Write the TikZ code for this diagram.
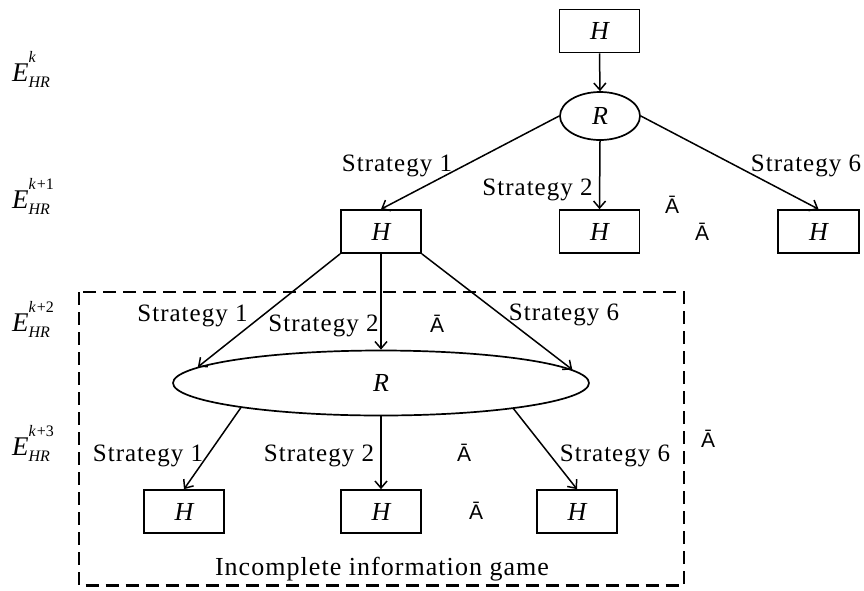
\documentclass[tikz,border=0pt]{standalone}
\usepackage{fontspec}
\setmainfont{Liberation Serif}
\newfontfamily\sansA{Liberation Sans}
\newfontfamily\labfont[LetterSpace=4]{Liberation Serif}
\usetikzlibrary{shapes.geometric,arrows.meta}
\newcommand\ELab[1]{\itshape E\rlap{\raisebox{19pt}{\fontsize{16}{16}\selectfont\itshape k\upshape{\kern1pt}#1}}\raisebox{-6pt}{\fontsize{16}{16}\selectfont\itshape HR}}
\tikzset{
  hbox/.style={draw, line width=1.7pt, minimum width=80pt, minimum height=43pt, inner sep=0pt, font=\fontsize{26}{26}\selectfont\itshape},
  rell/.style={draw, ellipse, line width=1.7pt, inner sep=0pt, font=\fontsize{26}{26}\selectfont\itshape},
  conn/.style={line width=1.5pt, -{Straight Barb[length=7pt,width=12pt,line width=1.5pt]}},
  lab/.style={anchor=base, inner sep=0pt, font=\labfont\fontsize{25}{25}\selectfont},
  gamelab/.style={anchor=base, inner sep=0pt, font=\labfont\fontsize{26}{26}\selectfont},
  abar/.style={anchor=base, inner sep=0pt, font=\sansA\fontsize{21}{21}\selectfont},
  elab/.style={anchor=base west, inner sep=0pt, font=\fontsize{27}{27}\selectfont},
  dbox/.style={draw, line width=2.7pt, dash pattern=on 13pt off 7pt},
}
\begin{document}
\begin{tikzpicture}[x=1pt, y=-1pt]
\useasboundingbox (0,0) rectangle (864,590);
% dashed frame
\draw[dbox] (79,292) rectangle (684,585.5);
% nodes
\node[hbox] (Htop) at (599.5,31) {H};
\node[rell, minimum width=80pt, minimum height=48pt] (Rtop) at (600,116) {R};
\node[hbox] (H1a) at (381,231.5) {H};
\node[hbox] (H1b) at (599.5,231.5) {H};
\node[hbox, minimum width=81pt] (H1c) at (818.5,231.5) {H};
\node[rell, minimum width=416pt, minimum height=65pt] (R2) at (381,383) {R};
\node[hbox] (H2a) at (184,511.5) {H};
\node[hbox] (H2b) at (381,511.5) {H};
\node[hbox] (H2c) at (577,511.5) {H};
% connectors
\draw[conn] (Htop.south) -- (Rtop.north);
\draw[conn] (Rtop.west) -- (H1a.north);
\draw[conn] (Rtop.south) -- (H1b.north);
\draw[conn] (Rtop.east) -- (H1c.north);
\draw[conn] (H1a.south west) -- (R2.175.3);
\draw[conn] (H1a.south) -- (R2.north);
\draw[conn] (H1a.south east) -- (R2.4.7);
\draw[conn] (R2.190.8) -- (H2a.north);
\draw[conn] (R2.south) -- (H2b.north);
\draw[conn] (R2.-11) -- (H2c.north);
% strategy labels
\node[lab] (s11) at (397,171) {Strategy 1};
\node[lab] (s12) at (537.5,195) {Strategy 2};
\node[lab] (s16) at (806,171) {Strategy 6};
\node[lab] (s21) at (192.5,321.5) {Strategy 1};
\node[lab] (s22) at (323.5,331.5) {Strategy 2};
\node[lab] (s26) at (564,320.5) {Strategy 6};
\node[lab] (s31) at (148,461) {Strategy 1};
\node[lab] (s32) at (319,461) {Strategy 2};
\node[lab] (s36) at (615,461) {Strategy 6};
\node[gamelab] (game) at (382,575) {Incomplete information game};
% stray glyphs
\node[abar] (a1) at (672,213) {Ā};
\node[abar] (a2) at (702,240.5) {Ā};
\node[abar] (a3) at (437,332.5) {Ā};
\node[abar] (a4) at (464,461) {Ā};
\node[abar] (a5) at (476,519) {Ā};
\node[abar] (a6) at (708,447) {Ā};
% level labels
\node[elab] (e0) at (12,81.7) {\ELab{}};
\node[elab] (e1) at (12,208.3) {\ELab{+1}};
\node[elab] (e2) at (12,331.7) {\ELab{+2}};
\node[elab] (e3) at (12,455) {\ELab{+3}};
\end{tikzpicture}
\end{document}
